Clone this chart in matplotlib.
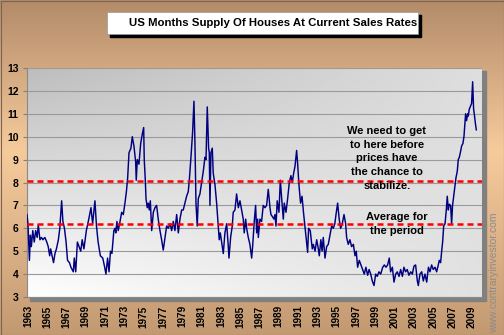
import numpy as np
import matplotlib.pyplot as plt
from matplotlib.colors import LinearSegmentedColormap
from matplotlib.patches import Rectangle

# months of supply of new houses at the current sales rate
dates = [
    1962.90, 1963.00, 1963.15, 1963.25, 1963.35, 1963.50, 1963.65, 1963.80, 1963.95,
    1964.07, 1964.24, 1964.40, 1964.55, 1964.75, 1964.95, 1965.10, 1965.25, 1965.35,
    1965.50, 1965.65, 1965.80, 1965.95, 1966.15, 1966.30, 1966.49, 1966.62, 1966.78,
    1966.95, 1967.10, 1967.30, 1967.45, 1967.70, 1967.80, 1967.95, 1968.12, 1968.30,
    1968.47, 1968.62, 1968.80, 1969.05, 1969.30, 1969.53, 1969.70, 1969.94, 1970.10,
    1970.27, 1970.50, 1970.75, 1970.95, 1971.08, 1971.25, 1971.40, 1971.55, 1971.70,
    1971.90, 1972.02, 1972.10, 1972.22, 1972.35, 1972.50, 1972.71, 1972.88, 1973.05,
    1973.20, 1973.33, 1973.47, 1973.67, 1973.81, 1973.98, 1974.16, 1974.22, 1974.33,
    1974.50, 1974.68, 1974.84, 1974.99, 1975.05, 1975.16, 1975.23, 1975.36, 1975.47,
    1975.57, 1975.68, 1975.82, 1975.99, 1976.16, 1976.33, 1976.50, 1976.68, 1976.85,
    1977.02, 1977.20, 1977.37, 1977.54, 1977.72, 1977.89, 1978.06, 1978.23, 1978.41,
    1978.58, 1978.75, 1978.93, 1979.09, 1979.27, 1979.44, 1979.61, 1979.72, 1979.89,
    1980.06, 1980.20, 1980.30, 1980.41, 1980.54, 1980.65, 1980.82, 1981.00, 1981.17,
    1981.34, 1981.45, 1981.58, 1981.72, 1981.79, 1981.86, 1981.96, 1982.10, 1982.20,
    1982.38, 1982.55, 1982.72, 1982.82, 1982.93, 1983.07, 1983.24, 1983.41, 1983.59,
    1983.76, 1983.83, 1984.00, 1984.17, 1984.27, 1984.45, 1984.62, 1984.80, 1984.97,
    1985.14, 1985.31, 1985.41, 1985.56, 1985.66, 1985.83, 1986.00, 1986.18, 1986.28,
    1986.45, 1986.59, 1986.70, 1986.80, 1986.87, 1987.04, 1987.21, 1987.38, 1987.56,
    1987.73, 1987.90, 1988.08, 1988.18, 1988.35, 1988.49, 1988.60, 1988.70, 1988.83,
    1989.01, 1989.15, 1989.29, 1989.46, 1989.56, 1989.74, 1989.91, 1990.08, 1990.25,
    1990.39, 1990.53, 1990.67, 1990.84, 1990.95, 1991.05, 1991.12, 1991.25, 1991.40,
    1991.55, 1991.70, 1991.98, 1992.08, 1992.25, 1992.46, 1992.57, 1992.75, 1992.92,
    1993.05, 1993.19, 1993.35, 1993.48, 1993.60, 1993.78, 1993.95, 1994.12, 1994.30,
    1994.47, 1994.64, 1994.80, 1994.92, 1995.09, 1995.25, 1995.40, 1995.57, 1995.75,
    1995.92, 1996.02, 1996.19, 1996.36, 1996.54, 1996.72, 1996.89, 1997.02, 1997.16,
    1997.33, 1997.51, 1997.68, 1997.85, 1998.02, 1998.20, 1998.35, 1998.52, 1998.68,
    1998.86, 1999.03, 1999.20, 1999.37, 1999.55, 1999.76, 1999.93, 2000.10, 2000.27,
    2000.44, 2000.58, 2000.76, 2000.93, 2001.10, 2001.27, 2001.45, 2001.62, 2001.80,
    2001.96, 2002.13, 2002.30, 2002.48, 2002.66, 2002.83, 2003.00, 2003.17, 2003.35,
    2003.45, 2003.62, 2003.80, 2003.97, 2004.14, 2004.32, 2004.50, 2004.66, 2004.83,
    2005.00, 2005.18, 2005.35, 2005.52, 2005.62, 2005.76, 2005.87, 2005.97, 2006.08,
    2006.22, 2006.35, 2006.45, 2006.56, 2006.66, 2006.80, 2006.90, 2007.00, 2007.15,
    2007.25, 2007.35, 2007.49, 2007.59, 2007.70, 2007.83, 2007.94, 2008.07, 2008.18,
    2008.28, 2008.35, 2008.45, 2008.56, 2008.63, 2008.73, 2008.83, 2008.97, 2009.08,
    2009.18, 2009.25, 2009.39, 2009.46,
]
months_supply = [
    6.6, 6.2, 4.6, 5.7, 5.2, 5.9, 5.4, 5.9, 5.6,
    6.15, 5.5, 5.6, 5.5, 5.6, 5.4, 5.2, 4.8, 5.1,
    4.8, 4.5, 4.9, 5.1, 5.5, 6.0, 7.2, 6.3, 6.0,
    5.4, 4.6, 4.5, 4.3, 4.1, 4.7, 4.1, 5.4, 5.2,
    5.0, 5.5, 5.1, 5.9, 6.4, 6.9, 6.2, 7.2, 6.1,
    5.4, 4.8, 4.7, 4.3, 4.0, 4.7, 4.1, 5.0, 4.9,
    5.9, 6.0, 5.8, 6.3, 5.9, 6.2, 6.7, 6.6, 7.1,
    7.6, 8.2, 9.3, 9.5, 10.0, 9.6, 8.9, 8.1, 9.0,
    8.8, 9.7, 10.1, 10.4, 9.0, 8.1, 7.3, 6.9, 7.1,
    6.8, 7.2, 5.9, 6.7, 6.9, 7.0, 6.4, 5.9, 5.5,
    5.05, 5.6, 6.1, 6.0, 6.2, 5.9, 6.3, 5.9, 6.6,
    5.8, 6.4, 6.8, 6.8, 7.1, 7.4, 7.6, 8.1, 9.1,
    10.2, 11.55, 9.8, 7.1, 6.1, 7.3, 7.5, 8.0, 8.5,
    9.1, 9.0, 11.3, 9.5, 9.3, 7.0, 9.3, 9.5, 8.4,
    7.9, 7.1, 6.1, 5.5, 5.8, 5.4, 4.9, 5.8, 6.2,
    5.2, 4.7, 5.6, 6.1, 6.7, 6.8, 7.5, 6.9, 7.2,
    6.8, 6.4, 5.8, 6.4, 6.0, 5.6, 5.3, 4.7, 5.2,
    6.3, 7.0, 5.8, 6.4, 5.6, 6.4, 6.3, 7.0, 6.9,
    7.0, 7.7, 6.9, 6.6, 6.5, 6.4, 6.6, 6.1, 7.2,
    6.7, 8.1, 7.3, 6.4, 7.1, 6.7, 7.3, 8.0, 8.3,
    8.0, 8.4, 8.7, 9.4, 8.8, 8.1, 7.7, 7.1, 7.4,
    6.7, 6.1, 4.95, 6.0, 5.9, 5.1, 5.3, 5.0, 5.5,
    5.2, 4.8, 5.5, 5.0, 5.6, 4.7, 5.2, 5.3, 5.7,
    6.1, 6.0, 6.2, 6.6, 7.1, 6.4, 6.0, 6.2, 6.6,
    6.2, 5.6, 5.3, 5.5, 5.2, 5.3, 4.8, 5.0, 4.3,
    4.6, 4.4, 4.2, 4.0, 4.3, 3.95, 4.2, 4.0, 3.7,
    3.5, 4.0, 3.9, 4.1, 4.0, 4.3, 4.4, 4.3, 4.4,
    4.7, 4.1, 4.3, 3.65, 4.0, 4.1, 3.9, 4.2, 3.9,
    4.3, 4.1, 4.2, 3.95, 4.1, 4.0, 4.35, 4.4, 3.7,
    3.5, 4.0, 4.1, 3.7, 4.0, 3.65, 4.3, 4.1, 4.4,
    4.2, 4.3, 4.1, 4.4, 4.6, 4.5, 5.0, 5.4, 6.1,
    6.2, 6.8, 7.4, 6.8, 7.05, 7.0, 6.2, 7.0, 7.5,
    7.8, 8.2, 8.5, 9.0, 9.1, 9.35, 9.6, 9.7, 10.0,
    10.6, 11.0, 10.7, 11.0, 10.9, 11.2, 11.3, 11.45, 12.4,
    11.2, 11.0, 10.5, 10.3,
]

tick_years = list(range(1963, 2010, 2))
y_ticks = list(range(3, 14))
target_level = 8.07
average_level = 6.2

title = 'US Months Supply Of Houses At Current Sales Rates'
target_note = 'We need to get\nto here before\nprices have\nthe chance to\nstabilize.'
average_note = 'Average for\nthe period'
site = 'www.contraryinvestor.com'

W, H = 504, 335
FONT = 'Liberation Sans'


def main() -> None:
    fig = plt.figure(figsize=(W / 100, H / 100), dpi=100)

    # background frame, laid out in pixel units
    bg = fig.add_axes([0, 0, 1, 1])
    bg.set_xlim(0, W)
    bg.set_ylim(H, 0)
    bg.axis('off')
    frame_cmap = LinearSegmentedColormap.from_list(
        'frame', [(0.0, '#b38b69'), (0.45, '#f6cb9c'), (1.0, '#c39972')])
    bg.imshow(np.linspace(0, 1, 256).reshape(-1, 1), cmap=frame_cmap,
              extent=[0, W, H, 0], aspect='auto')
    bg.add_patch(Rectangle((0.5, 0.5), W - 1, H - 1, fill=False, ec='#7a6450', lw=0.8))

    # plot area drop shadow
    bg.add_patch(Rectangle((30, 71), 456, 230, color='#808080'))

    # title box with its shadow
    bg.add_patch(Rectangle((110, 15), 311, 22, color='black'))
    bg.add_patch(Rectangle((107, 12), 311, 22, fc='white', ec='#999999', lw=0.5))
    bg.text(273, 23.5, title, ha='center', va='center', fontsize=8.2,
            fontweight='bold', family=FONT)

    bg.text(494, 333, site, rotation=90, ha='center', va='bottom',
            fontsize=7.5, color='#8c8c8c', family=FONT)

    ax = fig.add_axes([27 / W, (H - 297) / H, (482 - 27) / W, (297 - 68) / H])
    x0, x1 = 1962.9, 2010.05
    ax.set_xlim(x0, x1)
    ax.set_ylim(3, 13)

    # grey-to-white fill of the plot area
    xn, yn = np.meshgrid(np.linspace(0, 1, 200), np.linspace(0, 1, 200))
    shade = 1 - 0.26 * (1 - yn) * (1 - 0.5 * xn) - 0.12 * xn * yn
    ax.imshow(shade, cmap='gray', vmin=0, vmax=1, extent=[x0, x1, 3, 13],
              aspect='auto', origin='upper', zorder=0)

    ax.set_axisbelow(True)
    ax.yaxis.grid(True, color='#9a9a9a', lw=0.8)
    ax.set_yticks(y_ticks, [str(v) for v in y_ticks], fontweight='bold',
                  fontsize=7.5, family=FONT)
    ax.set_xticks(tick_years, [str(y) for y in tick_years], rotation=90,
                  fontweight='bold', fontsize=7.2, family=FONT)
    ax.tick_params(axis='y', length=3, color='#808080', pad=3)
    ax.tick_params(axis='x', length=0, pad=6)
    for side in ('top', 'right'):
        ax.spines[side].set_visible(False)
    for side in ('left', 'bottom'):
        ax.spines[side].set_color('#8a8a8a')

    ax.plot(dates, months_supply, color='#000080', lw=1.05, zorder=3)
    for level in (target_level, average_level):
        ax.axhline(level, color='#ff0000', lw=1.8, dashes=(2.4, 1.6), zorder=4)

    ax.text(2000.2, 9.05, target_note, ha='center', va='center', fontsize=8,
            fontweight='bold', family=FONT, linespacing=1.45, zorder=5)
    ax.text(2001.24, 6.2, average_note, ha='center', va='center', fontsize=8,
            fontweight='bold', family=FONT, linespacing=1.45, zorder=5)

    fig.savefig('out.png', dpi=100)


if __name__ == '__main__':
    main()
